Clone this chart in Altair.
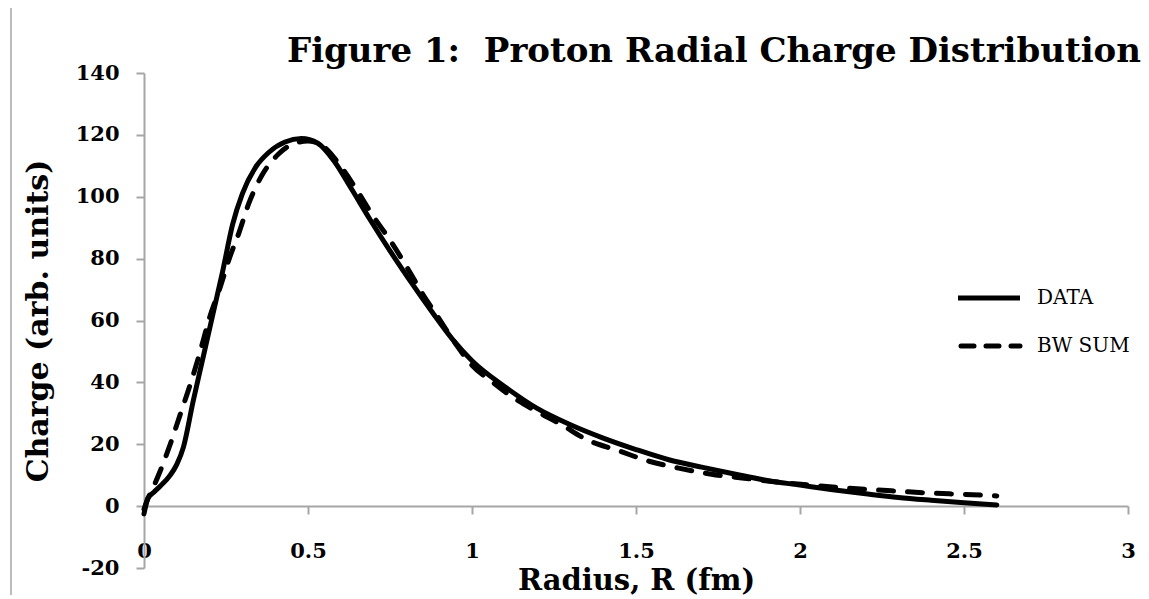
import altair as alt
import pandas as pd

# ---- data ----
data_r = [0.0, 0.012, 0.03, 0.05, 0.08, 0.10, 0.12, 0.15, 0.18, 0.21, 0.24, 0.27, 0.30, 0.34, 0.38,
          0.43, 0.48, 0.53, 0.58, 0.63, 0.69, 0.75, 0.82, 0.88, 0.94, 1.0, 1.1, 1.2, 1.3, 1.4,
          1.5, 1.6, 1.7, 1.8, 1.9, 2.0, 2.1, 2.2, 2.3, 2.4, 2.5, 2.6]
data_q = [-2.5, 2.5, 4.5, 6.5, 10.0, 13.5, 19.0, 34.0, 48.0, 62.0, 76.0, 91.0, 101.0, 109.5, 114.3,
          117.7, 118.8, 117.3, 111.5, 103.0, 92.5, 82.5, 71.5, 62.5, 54.0, 47.0, 38.6, 31.5, 26.3, 22.0,
          18.3, 15.0, 12.6, 10.4, 8.3, 6.8, 5.3, 4.0, 2.8, 1.9, 1.1, 0.4]

bw_r = [0.0, 0.01, 0.03, 0.05, 0.08, 0.11, 0.14, 0.17, 0.20, 0.23, 0.26, 0.29, 0.32, 0.36, 0.41,
        0.46, 0.50, 0.55, 0.60, 0.65, 0.70, 0.75, 0.80, 0.85, 0.90, 0.95, 1.0, 1.06, 1.12, 1.19,
        1.27, 1.35, 1.45, 1.54, 1.63, 1.73, 1.83, 1.93, 2.03, 2.12, 2.22, 2.30, 2.40, 2.50, 2.60]
bw_q = [-1.0, 2.0, 6.5, 11.5, 20.0, 29.5, 39.0, 49.5, 61.0, 70.0, 80.0, 88.5, 98.0, 107.0, 113.8,
        117.3, 118.0, 116.0, 109.8, 102.0, 93.5, 86.0, 77.5, 68.5, 60.5, 52.5, 45.5, 40.3, 35.5, 31.0,
        26.5, 21.5, 17.8, 14.5, 12.3, 10.3, 9.0, 7.8, 6.8, 6.0, 5.3, 4.8, 4.2, 3.8, 3.3]

series = ["DATA", "BW SUM"]
x_ticks = [0, 0.5, 1, 1.5, 2, 2.5, 3]
y_ticks = [-20, 0, 20, 40, 60, 80, 100, 120, 140]

title_text = "Figure 1:\u00a0 Proton Radial Charge Distribution"
x_title = "Radius, R (fm)"
y_title = "Charge (arb. units)"

# ---- layout / style ----
W, H = 984, 495
FONT = "DejaVu Serif"
GRAY = "#a6a6a6"

df_data = pd.DataFrame({"r": data_r, "q": data_q, "series": series[0]})
df_bw = pd.DataFrame({"r": bw_r, "q": bw_q, "series": series[1]})
legend_df = pd.DataFrame({"series": series})
title_df = pd.DataFrame({"t": [title_text]})

x_scale = alt.Scale(domain=[0, 3], nice=False, zero=False)
y_scale = alt.Scale(domain=[-20, 140], nice=False, zero=False)

x_axis = alt.Axis(
    values=x_ticks, labelExpr="datum.value + ''", title=x_title, offset=-62, grid=False,
    domainColor=GRAY, domainWidth=2, tickColor=GRAY, tickWidth=2, tickSize=8,
    labelFont=FONT, labelFontSize=21, labelFontWeight="bold", labelColor="black",
    labelPadding=26, labelFlush=False, labelOverlap=False,
    titleFont=FONT, titleFontSize=29, titleFontWeight="bold", titleColor="black",
    titleX=W / 2, titleY=83, titleAlign="center", titleBaseline="alphabetic",
)
y_axis = alt.Axis(
    values=y_ticks, labelExpr="datum.value + ''", title=y_title, grid=False,
    domainColor=GRAY, domainWidth=2, tickColor=GRAY, tickWidth=2, tickSize=8,
    labelFont=FONT, labelFontSize=21, labelFontWeight="bold", labelColor="black",
    labelPadding=17, labelOverlap=False,
    titleFont=FONT, titleFontSize=30, titleFontWeight="bold", titleColor="black",
    titleX=-106, titleY=H / 2, titleAngle=-90, titleAlign="center", titleBaseline="middle",
)

solid = alt.Chart(df_data).mark_line(
    color="black", strokeWidth=5, interpolate="monotone", strokeCap="round", strokeJoin="round"
).encode(
    x=alt.X("r:Q", scale=x_scale, axis=x_axis),
    y=alt.Y("q:Q", scale=y_scale, axis=y_axis),
)

dashed = alt.Chart(df_bw).mark_line(
    color="black", strokeWidth=5, interpolate="monotone", strokeCap="round",
    strokeJoin="round", strokeDash=[15, 14]
).encode(
    x=alt.X("r:Q", scale=x_scale),
    y=alt.Y("q:Q", scale=y_scale),
)

# ---- legend (drawn as marks) ----
leg_x0, leg_x1, leg_tx = 814, 876, 893
leg_y = {"DATA": 225, "BW SUM": 273}

leg_solid = alt.Chart(legend_df).transform_filter(alt.datum.series == "DATA").mark_rule(
    color="black", strokeWidth=5, strokeCap="butt"
).encode(x=alt.value(leg_x0), x2=alt.value(leg_x1), y=alt.value(leg_y["DATA"]))

leg_dash = alt.Chart(legend_df).transform_filter(alt.datum.series == "BW SUM").mark_rule(
    color="black", strokeWidth=5, strokeCap="round", strokeDash=[13, 12]
).encode(x=alt.value(leg_x0 + 3), x2=alt.value(leg_x1), y=alt.value(leg_y["BW SUM"]))

leg_text1 = alt.Chart(legend_df).transform_filter(alt.datum.series == "DATA").mark_text(
    align="left", baseline="middle", font=FONT, fontSize=20, color="black"
).encode(x=alt.value(leg_tx), y=alt.value(leg_y["DATA"]), text="series:N")

leg_text2 = alt.Chart(legend_df).transform_filter(alt.datum.series == "BW SUM").mark_text(
    align="left", baseline="middle", font=FONT, fontSize=20, color="black"
).encode(x=alt.value(leg_tx), y=alt.value(leg_y["BW SUM"]), text="series:N")

# chart title drawn as text
title_mark = alt.Chart(title_df).mark_text(
    align="left", baseline="alphabetic", font=FONT, fontSize=34, fontWeight="bold", color="black"
).encode(x=alt.value(143), y=alt.value(-11), text="t:N")

# chart-area frame (left and top edges visible in the reference)
frame_left = alt.Chart(legend_df.head(1)).mark_rule(color=GRAY, strokeWidth=1.5).encode(
    x=alt.value(-133), y=alt.value(-70), y2=alt.value(H + 40)
)
frame_top = alt.Chart(legend_df.head(1)).mark_rule(color=GRAY, strokeWidth=1.5).encode(
    x=alt.value(-133), x2=alt.value(W + 20), y=alt.value(-70)
)

chart = alt.layer(
    frame_left, frame_top, solid, dashed, leg_solid, leg_dash, leg_text1, leg_text2, title_mark
).properties(
    width=W, height=H,
    autosize=alt.AutoSizeParams(type="none"),
    padding={"left": 136, "top": 65, "right": 13, "bottom": 27},
).configure_view(stroke="transparent")

chart.save("out.html", embed_options={"renderer": "svg", "actions": False})
